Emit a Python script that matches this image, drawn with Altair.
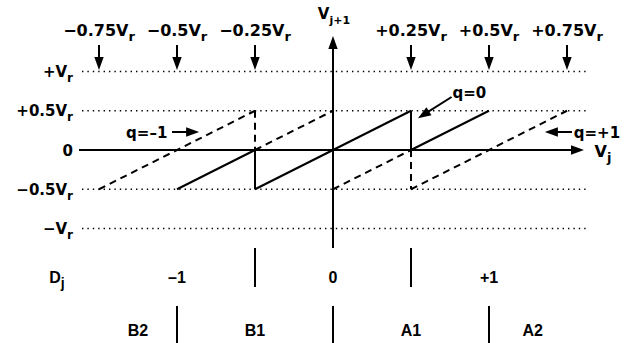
import math
import altair as alt
import pandas as pd

# ---------------- data (all values in units of Vr) ----------------
LEVELS = [1.0, 0.5, -0.5, -1.0]                       # dotted reference levels

Y_TICK_VALUES = [1.0, 0.5, 0.0, -0.5, -1.0]
Y_TICK_MAIN = ["+V", "+0.5V", "0", "\u22120.5V", "\u2212V"]
Y_TICK_SUB = ["r", "r", "", "r", "r"]

THRESH_VALUES = [-0.75, -0.5, -0.25, 0.25, 0.5, 0.75]
THRESH_MAIN = ["\u22120.75V", "\u22120.5V", "\u22120.25V", "+0.25V", "+0.5V", "+0.75V"]
THRESH_SUB = ["r", "r", "r", "r", "r", "r"]

# transfer characteristic  V(j+1) vs V(j)
SOLID_X1 = [-0.5, -0.25, -0.25, 0.25, 0.25]
SOLID_Y1 = [-0.5, 0.0, -0.5, 0.5, 0.0]
SOLID_X2 = [-0.25, -0.25, 0.25, 0.25, 0.5]
SOLID_Y2 = [0.0, -0.5, 0.5, 0.0, 0.5]

DASH_X1 = [-0.75, -0.25, -0.25, 0.0, 0.25, 0.25]
DASH_Y1 = [-0.5, 0.5, 0.0, -0.5, 0.0, -0.5]
DASH_X2 = [-0.25, -0.25, 0.0, 0.25, 0.25, 0.75]
DASH_Y2 = [0.5, 0.0, 0.5, 0.0, -0.5, 0.5]

Q_LABELS = ["q=\u20131", "q=0", "q=+1"]
Q_LABEL_X = [-0.597, 0.437, 0.846]
Q_LABEL_Y = [0.235, 0.745, 0.235]
Q_ARROW_X1 = [-0.516, 0.38, 0.766]
Q_ARROW_Y1 = [0.229, 0.675, 0.229]
Q_ARROW_X2 = [-0.429, 0.2724, 0.679]
Q_ARROW_Y2 = [0.229, 0.404, 0.229]

DJ_SEPARATORS = [-0.25, 0.25]
DJ_CENTERS = [-0.5, 0.0, 0.5]
DJ_LABELS = ["\u20131", "0", "+1"]

REGION_SEPARATORS = [-0.5, 0.0, 0.5]
REGION_CENTERS = [-0.625, -0.25, 0.25, 0.64]
REGION_LABELS = ["B2", "B1", "A1", "A2"]

# ---------------- layout (pixels) ----------------
W, H = 634, 343
X0, XPX = 333.0, 312.0      # pixel of Vj=0, pixels per Vr on x
Y0, YPX = 150.0, 78.5       # pixel of V(j+1)=0, pixels per Vr on y


def dx(px):
    return (px - X0) / XPX


def dy(py):
    return (Y0 - py) / YPX


XS = alt.Scale(domain=[dx(0), dx(W)], nice=False, zero=False)
YS = alt.Scale(domain=[dy(H), dy(0)], nice=False, zero=False)


def X(f):
    return alt.X(f, type="quantitative", scale=XS, axis=None)


def Y(f):
    return alt.Y(f, type="quantitative", scale=YS, axis=None)


FW = "DejaVu Sans"
FN = "Liberation Sans"
# approximate advance widths (em) for label placement
WIDTHS = {
    FW: {"+": 0.838, "\u2212": 0.838, ".": 0.380, "V": 0.774, "r": 0.493, "j": 0.343,
         "q": 0.716, "=": 0.838, "\u2013": 0.5, "D": 0.830, "_d": 0.696},
    FN: {"+": 0.584, "\u2212": 0.584, ".": 0.278, "V": 0.667, "r": 0.389, "j": 0.278,
         "q": 0.611, "=": 0.584, "\u2013": 0.556, "D": 0.722, "_d": 0.556},
}


def tw(s, size, font):
    t = WIDTHS[font]
    return sum(t["_d"] if c.isdigit() else t.get(c, 0.6) for c in s) * size


def rules(df, dash=None, width=2.0):
    kw = dict(color="black", strokeWidth=width, strokeCap="butt")
    if dash:
        kw["strokeDash"] = dash
    return alt.Chart(df).mark_rule(**kw).encode(
        x=X("x1"), y=Y("y1"), x2=alt.X2("x2"), y2=alt.Y2("y2"))


def texts(df, align, font, size, ddy=0, baseline="alphabetic"):
    return alt.Chart(df).mark_text(
        align=align, baseline=baseline, font=font, fontSize=size,
        fontWeight="bold", color="black", dy=ddy).encode(
        x=X("x"), y=Y("y"), text="t:N")


layers = []

# dotted reference levels
lev = pd.DataFrame({"y1": LEVELS})
lev["y2"] = lev["y1"]
lev["x1"] = dx(82)
lev["x2"] = dx(588)
layers.append(rules(lev, dash=[1.4, 4.0], width=1.4))

# axes
axes = pd.DataFrame({"x1": [dx(79), 0.0], "y1": [0.0, dy(248)],
                     "x2": [dx(575), 0.0], "y2": [0.0, dy(44)]})
layers.append(rules(axes))

# characteristic
solid = pd.DataFrame({"x1": SOLID_X1, "y1": SOLID_Y1, "x2": SOLID_X2, "y2": SOLID_Y2})
layers.append(rules(solid))
dash = pd.DataFrame({"x1": DASH_X1, "y1": DASH_Y1, "x2": DASH_X2, "y2": DASH_Y2})
layers.append(rules(dash, dash=[7, 5]))

# arrows: shafts + heads
HEAD = 13.0
arrow_rows = []
for v in THRESH_VALUES:
    arrow_rows.append((v, dy(45), v, dy(70)))
for a, b, c, d in zip(Q_ARROW_X1, Q_ARROW_Y1, Q_ARROW_X2, Q_ARROW_Y2):
    arrow_rows.append((a, b, c, d))
shafts, heads = [], []
for a, b, c, d in arrow_rows:
    px1, py1 = X0 + a * XPX, Y0 - b * YPX
    px2, py2 = X0 + c * XPX, Y0 - d * YPX
    L = math.hypot(px2 - px1, py2 - py1)
    ux, uy = (px2 - px1) / L, (py2 - py1) / L
    ex, ey = px2 - ux * (HEAD - 3), py2 - uy * (HEAD - 3)
    shafts.append((a, b, dx(ex), dy(ey)))
    ang = math.degrees(math.atan2(px2 - px1, -(py2 - py1))) % 360
    heads.append((c, d, ang))
heads.append((dx(584), 0.0, 90.0))
heads.append((0.0, dy(36), 0.0))
sh = pd.DataFrame(shafts, columns=["x1", "y1", "x2", "y2"])
layers.append(rules(sh))
hd = pd.DataFrame(heads, columns=["x", "y", "angle"])
layers.append(alt.Chart(hd).mark_point(
    shape="M0,0L0.36,1L-0.36,1Z", size=(2 * HEAD) ** 2, filled=True,
    color="black", opacity=1, strokeWidth=0).encode(
    x=X("x"), y=Y("y"), angle=alt.Angle("angle:Q", scale=None)))

# bottom separators
seps = pd.DataFrame({"x1": DJ_SEPARATORS + [0.0] + REGION_SEPARATORS})
seps["x2"] = seps["x1"]
seps["y1"] = [dy(248), dy(248), dy(232)] + [dy(306)] * 3
seps["y2"] = [dy(287), dy(287), dy(248)] + [dy(343)] * 3
layers.append(rules(seps))


def add_sub_labels(mains, subs, xs_px_center, y, msize, ssize, sdy, font=FW,
                   right_px=None):
    m_rows, s_rows = [], []
    for i, (m, s) in enumerate(zip(mains, subs)):
        mw, sw = tw(m, msize, font), tw(s, ssize, font)
        if right_px is not None:
            anchor = right_px - sw
        else:
            anchor = xs_px_center[i] - (mw + sw) / 2 + mw
        yy = y[i] if isinstance(y, list) else y
        m_rows.append((dx(anchor), yy, m))
        if s:
            s_rows.append((dx(anchor), yy, s))
    mdf = pd.DataFrame(m_rows, columns=["x", "y", "t"])
    out = [texts(mdf, "right", font, msize)]
    if s_rows:
        sdf = pd.DataFrame(s_rows, columns=["x", "y", "t"])
        out.append(texts(sdf, "left", font, ssize, ddy=sdy))
    return out


# threshold labels at top
layers += add_sub_labels(THRESH_MAIN, THRESH_SUB,
                         [X0 + v * XPX for v in THRESH_VALUES], dy(36), 16, 13, 5)
# y-level labels
layers += add_sub_labels(Y_TICK_MAIN, Y_TICK_SUB, None,
                         [dy(Y0 - v * YPX + 5.5) for v in Y_TICK_VALUES], 15, 12, 5,
                         right_px=73)
# axis titles
layers += add_sub_labels(["V"], ["j+1"], [334], dy(19), 15, 11, 5)
layers += add_sub_labels(["V"], ["j"], [603], dy(157), 16, 13, 5)

# q labels
qdf = pd.DataFrame({"x": Q_LABEL_X, "y": [v - 6 / YPX for v in Q_LABEL_Y], "t": Q_LABELS})
layers.append(texts(qdf, "center", FW, 15))

# D_j row
layers += add_sub_labels(["D"], ["j"], [57], dy(283), 16, 14, 5, font=FN)
djdf = pd.DataFrame({"x": DJ_CENTERS, "y": dy(283), "t": DJ_LABELS})
layers.append(texts(djdf, "center", FN, 16))

# region row
rdf = pd.DataFrame({"x": REGION_CENTERS, "y": dy(336), "t": REGION_LABELS})
layers.append(texts(rdf, "center", FN, 16))

chart = alt.layer(*layers).properties(
    width=W, height=H, padding=0, autosize=alt.AutoSizeParams(type="none"),
    background="white").configure_view(stroke=None)

chart.save("out.html", embed_options={"renderer": "svg", "actions": False})
